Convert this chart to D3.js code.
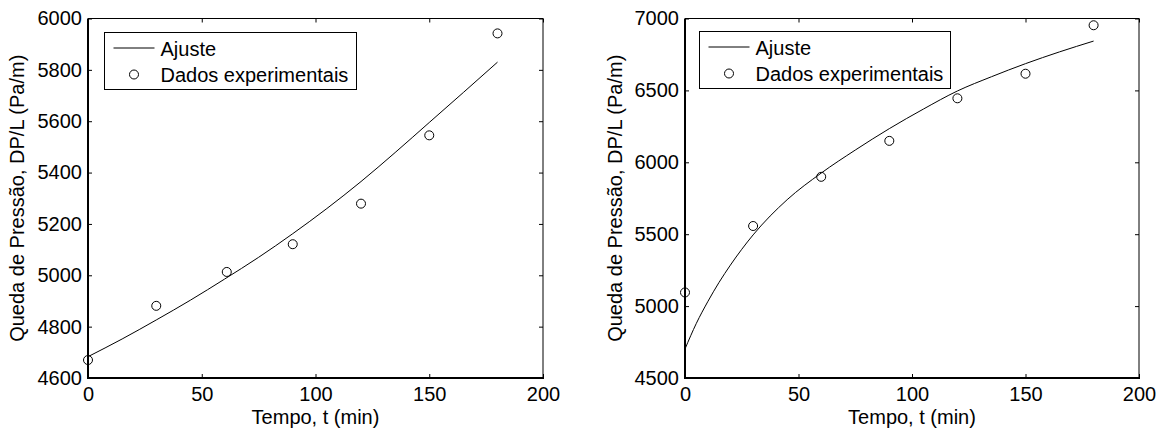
<!DOCTYPE html>
<html>
<head>
<meta charset="utf-8">
<script src="https://cdn.jsdelivr.net/npm/d3@7"></script>
<style>
  body { margin: 0; background: #fff; }
  svg { display: block; }
  text { font-family: 'Liberation Sans', Arial, Helvetica, sans-serif; font-size: 20px; fill: #000; }
</style>
</head>
<body>
<svg id="chart" width="1164" height="432"></svg>
<script>
// Ensaio A: tempos de coleta (min), queda de pressão medida e curva ajustada
const tempoA = [0, 30, 61, 90, 120, 150, 180];
const dadosA = [4670, 4881, 5013, 5121, 5279, 5545, 5942];
const tempoAjusteA = [0, 15, 30, 45, 60, 75, 90, 105, 120, 135, 150, 165, 180];
const ajusteA = [4683, 4752, 4826, 4903, 4985, 5070, 5162, 5260, 5365, 5478, 5595, 5712, 5830];

// Ensaio B: tempos de coleta (min), queda de pressão medida e curva ajustada
const tempoB = [0, 30, 60, 90, 120, 150, 180];
const dadosB = [5095, 5557, 5899, 6149, 6445, 6616, 6953];
const tempoAjusteB = [0, 5, 10, 15, 20, 25, 30, 45, 60, 75, 90, 105, 120, 135, 150, 165, 180];
const ajusteB = [4702, 4880, 5030, 5165, 5285, 5395, 5495, 5740, 5925, 6085, 6234, 6370, 6496, 6595, 6686, 6768, 6843];

// Eixos e rótulos
const xTicks = [0, 50, 100, 150, 200];
const yTicksA = [4600, 4800, 5000, 5200, 5400, 5600, 5800, 6000];
const yTicksB = [4500, 5000, 5500, 6000, 6500, 7000];
const legendLabels = ["Ajuste", "Dados experimentais"];
const xTitle = "Tempo, t (min)";
const yTitle = "Queda de Pressão, DP/L (Pa/m)";

const svg = d3.select("#chart");
const FONT = "'Liberation Sans', Arial, sans-serif";

function drawPanel(p) {
  const g = svg.append("g");
  const x = d3.scaleLinear().domain([0, 200]).range([p.left, p.right]);
  const y = d3.scaleLinear().domain([p.yTicks[0], p.yTicks[p.yTicks.length - 1]]).range([p.bottom, p.top]);

  // tick marks pointing inward on all four sides
  const tick = 4;
  const bottomAxis = g.append("g")
    .attr("transform", `translate(0,${p.bottom})`)
    .call(d3.axisBottom(x).tickValues(xTicks).tickSizeInner(-tick).tickSizeOuter(0).tickPadding(9));
  const leftAxis = g.append("g")
    .attr("transform", `translate(${p.left},0)`)
    .call(d3.axisLeft(y).tickValues(p.yTicks).tickSizeInner(-tick).tickSizeOuter(0).tickPadding(6).tickFormat(d3.format("d")));
  const topAxis = g.append("g")
    .attr("transform", `translate(0,${p.top})`)
    .call(d3.axisTop(x).tickValues(xTicks).tickSizeInner(-tick).tickSizeOuter(0).tickFormat(""));
  const rightAxis = g.append("g")
    .attr("transform", `translate(${p.right},0)`)
    .call(d3.axisRight(y).tickValues(p.yTicks).tickSizeInner(-tick).tickSizeOuter(0).tickFormat(""));

  [bottomAxis, leftAxis, topAxis, rightAxis].forEach(a => {
    a.select(".domain").remove();
    a.selectAll(".tick line").attr("stroke", "#000").attr("stroke-width", 1);
    a.selectAll("text")
      .attr("fill", "#000")
      .style("font-family", FONT)
      .style("font-size", "20px");
  });

  // frame: heavier lines on the left and bottom
  g.append("line").attr("x1", p.left).attr("x2", p.right).attr("y1", p.top).attr("y2", p.top)
    .attr("stroke", "#000").attr("stroke-width", 1);
  g.append("line").attr("x1", p.right).attr("x2", p.right).attr("y1", p.top).attr("y2", p.bottom)
    .attr("stroke", "#000").attr("stroke-width", 1);
  g.append("line").attr("x1", p.left).attr("x2", p.right + 1).attr("y1", p.bottom).attr("y2", p.bottom)
    .attr("stroke", "#000").attr("stroke-width", 2);
  g.append("line").attr("x1", p.left).attr("x2", p.left).attr("y1", p.top).attr("y2", p.bottom + 1)
    .attr("stroke", "#000").attr("stroke-width", 2);

  // fitted curve
  g.append("path")
    .datum(p.tempoAjuste.map((t, i) => [t, p.ajuste[i]]))
    .attr("fill", "none")
    .attr("stroke", "#000")
    .attr("stroke-width", 1)
    .attr("d", d3.line().x(d => x(d[0])).y(d => y(d[1])).curve(d3.curveMonotoneX));

  // experimental points
  g.selectAll("circle.dado")
    .data(p.tempo.map((t, i) => [t, p.dados[i]]))
    .join("circle")
    .attr("class", "dado")
    .attr("cx", d => x(d[0]))
    .attr("cy", d => y(d[1]))
    .attr("r", 4.5)
    .attr("fill", "none")
    .attr("stroke", "#000")
    .attr("stroke-width", 1);

  // axis titles
  g.append("text")
    .attr("x", (p.left + p.right) / 2)
    .attr("y", 424)
    .attr("text-anchor", "middle")
    .text(xTitle);
  g.append("text")
    .attr("transform", `translate(${p.titleX},${(p.top + p.bottom) / 2}) rotate(-90)`)
    .attr("text-anchor", "middle")
    .text(yTitle);

  // legend
  const L = p.legend;
  g.append("rect")
    .attr("x", L.x).attr("y", L.y).attr("width", L.w).attr("height", L.h)
    .attr("fill", "#fff").attr("stroke", "#000").attr("stroke-width", 1);
  g.append("line")
    .attr("x1", L.x + 9).attr("x2", L.x + 50)
    .attr("y1", L.y + 15.5).attr("y2", L.y + 15.5)
    .attr("stroke", "#000").attr("stroke-width", 1);
  g.append("circle")
    .attr("cx", L.x + 29.5).attr("cy", L.y + 42)
    .attr("r", 4.5).attr("fill", "none").attr("stroke", "#000").attr("stroke-width", 1);
  g.append("text").attr("x", L.x + 56).attr("y", L.y + 23).text(legendLabels[0]);
  g.append("text").attr("x", L.x + 56).attr("y", L.y + 49.5).text(legendLabels[1]);
}

drawPanel({
  left: 88, right: 543, top: 18.5, bottom: 378,
  yTicks: yTicksA, tempo: tempoA, dados: dadosA, tempoAjuste: tempoAjusteA, ajuste: ajusteA,
  titleX: 24,
  legend: { x: 104.5, y: 32.5, w: 252, h: 57 }
});

drawPanel({
  left: 685, right: 1139, top: 18.5, bottom: 378,
  yTicks: yTicksB, tempo: tempoB, dados: dadosB, tempoAjuste: tempoAjusteB, ajuste: ajusteB,
  titleX: 621.5,
  legend: { x: 699.5, y: 31.5, w: 251, h: 57 }
});
</script>
</body>
</html>
